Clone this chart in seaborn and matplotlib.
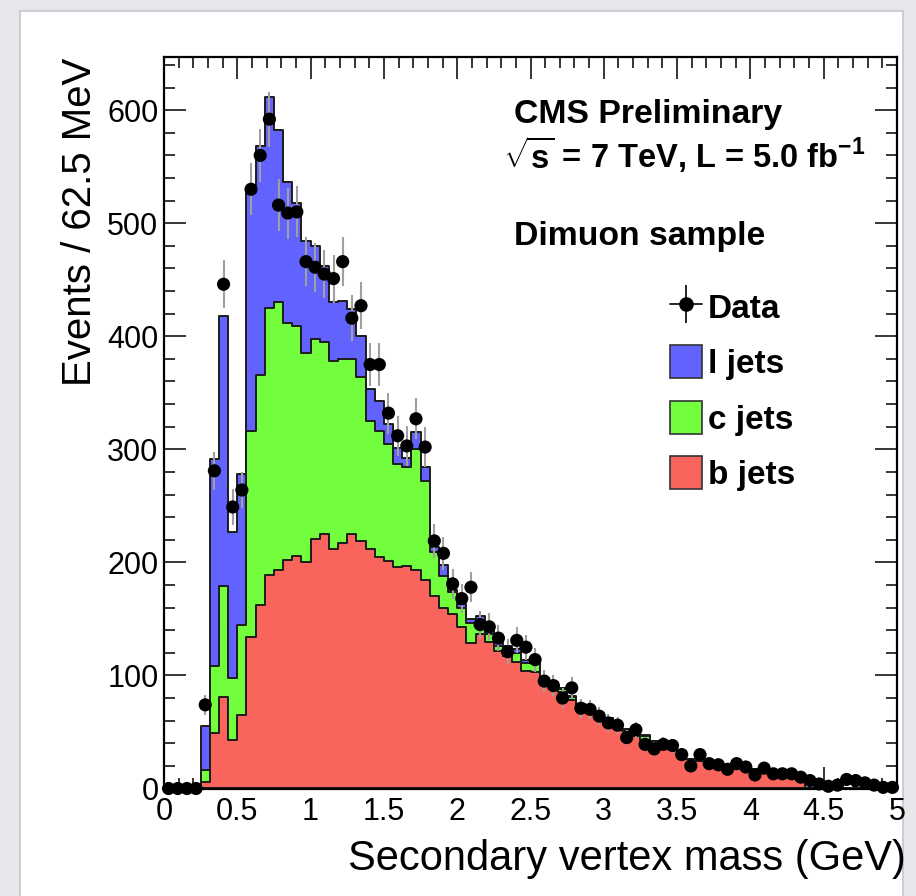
import numpy as np
import pandas as pd
import matplotlib
matplotlib.use("Agg")
import matplotlib.pyplot as plt
import seaborn as sns
from matplotlib.patches import Rectangle, Patch
from matplotlib.lines import Line2D
from matplotlib.ticker import MultipleLocator, FuncFormatter

# 80 bins of 62.5 MeV between 0 and 5 GeV
bin_edges = np.linspace(0, 5, 81)
bin_centers = 0.5 * (bin_edges[:-1] + bin_edges[1:])

# simulated components, events per bin
b_jets = [0, 0, 0, 0, 6, 49, 81, 43, 65, 134,
          162, 189, 193, 202, 206, 200, 221, 225, 212, 217,
          225, 219, 212, 205, 201, 196, 197, 193, 184, 170,
          160, 154, 143, 129, 137, 130, 122, 117, 112, 104,
          103, 96, 92, 85, 78, 74, 70, 64, 61, 57,
          51, 46, 43, 41, 39, 36, 33, 26, 24, 22,
          21, 20, 19, 18, 17, 16, 15, 14, 13, 12,
          0, 0, 0, 0, 0, 0, 0, 0, 0, 0]
c_jets = [0, 0, 0, 0, 10, 59, 98, 55, 80, 182,
          204, 236, 237, 210, 203, 185, 177, 170, 166, 163,
          155, 145, 113, 111, 104, 91, 87, 107, 88, 39,
          28, 20, 17, 17, 12, 7, 4, 5, 8, 7,
          8, 1, 1, 3, 3, 1, 1, 1, 1, 1,
          1, 2, 3, 1, 1, 1, 0, 0, 0, 0,
          0, 0, 0, 0, 0, 0, 0, 0, 0, 0,
          0, 0, 0, 0, 0, 0, 0, 0, 0, 0]
l_jets = [0, 0, 0, 0, 39, 183, 239, 129, 133, 215,
          202, 187, 152, 124, 109, 99, 82, 67, 52, 51,
          44, 36, 28, 27, 17, 14, 8, 15, 12, 5,
          10, 2, 3, 4, 4, 2, 3, 4, 3, 3,
          3, 1, 1, 1, 1, 0, 0, 0, 0, 0,
          1, 1, 1, 0, 0, 0, 0, 0, 0, 0,
          0, 0, 0, 0, 0, 0, 0, 0, 0, 0,
          0, 0, 0, 0, 0, 0, 0, 0, 0, 0]
data_counts = [0, 0, 0, 0, 74, 281, 446, 249, 264, 530,
               560, 592, 516, 509, 510, 466, 461, 455, 451, 466,
               416, 427, 375, 375, 332, 312, 303, 327, 302, 219,
               208, 181, 168, 178, 145, 143, 133, 121, 131, 125,
               114, 95, 91, 80, 89, 71, 70, 64, 58, 56,
               45, 52, 39, 35, 39, 38, 30, 20, 30, 22,
               21, 17, 22, 19, 12, 18, 13, 13, 13, 10,
               7, 4, 2, 3, 8, 7, 5, 3, 1, 1]

x_ticks = [0, 0.5, 1, 1.5, 2, 2.5, 3, 3.5, 4, 4.5, 5]
y_ticks = [0, 100, 200, 300, 400, 500, 600]

col_l = "#6262FE"
col_c = "#73FE3D"
col_b = "#F9655D"

sns.set_theme(style="ticks")
plt.rcParams["font.family"] = ["Liberation Sans", "DejaVu Sans"]
plt.rcParams["mathtext.fontset"] = "custom"
plt.rcParams["mathtext.rm"] = "Liberation Sans"
plt.rcParams["mathtext.bf"] = "Liberation Sans:bold"
plt.rcParams["text.color"] = "black"
plt.rcParams["axes.labelcolor"] = "black"

W, H = 916, 896
fig = plt.figure(figsize=(W / 100, H / 100), dpi=100, facecolor="#e5e7ea")
# white slide card behind the plot
card = Rectangle((20 / W, -0.01), (903 - 20) / W, 1.01 - 11 / H,
                 transform=fig.transFigure, facecolor="white",
                 edgecolor="#c4c7cc", lw=1.2, zorder=-5)
fig.patches.append(card)

ax = fig.add_axes([164 / W, 1 - 788.5 / H, (897 - 164) / W, (788.5 - 57) / H])
ax.set_facecolor("white")

b_arr = np.array(b_jets, dtype=float)
c_arr = np.array(c_jets, dtype=float)
l_arr = np.array(l_jets, dtype=float)
stack_layers = [(b_arr + c_arr + l_arr, col_l), (b_arr + c_arr, col_c), (b_arr, col_b)]
for heights, col in stack_layers:
    layer = pd.DataFrame({"mass": bin_centers, "events": heights})
    sns.histplot(data=layer, x="mass", weights="events", bins=bin_edges.tolist(),
                 element="step", fill=True, color=col, alpha=1, edgecolor="#1c1c1c",
                 linewidth=1.4, ax=ax)

data = np.array(data_counts, dtype=float)
ax.errorbar(bin_centers, data, yerr=np.sqrt(data), fmt="none", ecolor="#a0a0a0",
            elinewidth=1.5, zorder=5)
pts = pd.DataFrame({"mass": bin_centers, "events": data})
sns.scatterplot(data=pts, x="mass", y="events", color="black", s=90, edgecolor="none",
                zorder=6, clip_on=False, legend=False, ax=ax)

ax.set_xlim(0, 5)
ax.set_ylim(0, 647)
ax.set_xticks(x_ticks)
ax.set_yticks(y_ticks)
ax.xaxis.set_major_formatter(FuncFormatter(lambda v, p: f"{v:g}"))
ax.xaxis.set_minor_locator(MultipleLocator(0.1))
ax.yaxis.set_minor_locator(MultipleLocator(20))
ax.tick_params(which="both", direction="in", top=True, right=True, color="black",
               width=1.1, labelsize=22, labelcolor="black")
ax.tick_params(which="major", length=15.5)
ax.tick_params(which="minor", length=8)
ax.tick_params(axis="x", pad=6)
ax.tick_params(axis="y", pad=4)
for s in ax.spines.values():
    s.set_linewidth(1.6)
    s.set_color("black")
    s.set_visible(True)
    s.set_zorder(10)
ax.set_xlabel("")
ax.set_ylabel("")

fig.text(906 / W, 1 - 870 / H, "Secondary vertex mass (GeV)", ha="right", va="baseline",
         fontsize=30)
fig.text(80 / W, 1 - 58 / H, "Events / 62.5 MeV", rotation=90, ha="center", va="top",
         fontsize=29)

fig.text(514 / W, 1 - 123 / H, "CMS Preliminary", fontsize=24.3, weight="bold", va="baseline")
fig.text(503 / W, 1 - 168 / H, r"$\mathbf{\sqrt{s}}$ = 7 TeV, L = 5.0 fb$^{\mathbf{-1}}$",
         fontsize=23.5, weight="bold", va="baseline")
fig.text(514 / W, 1 - 245 / H, "Dimuon sample", fontsize=24.3, weight="bold", va="baseline")

data_handle = (Line2D([], [], color="black", lw=1.2),
               Line2D([], [], marker="|", markersize=27, color="black", ls="none", mew=1.2),
               Line2D([], [], marker="o", markersize=9.5, color="black", ls="none"))
handles = [data_handle,
           Patch(facecolor=col_l, edgecolor="#333333", lw=1.2),
           Patch(facecolor=col_c, edgecolor="#333333", lw=1.2),
           Patch(facecolor=col_b, edgecolor="#333333", lw=1.2)]
labels = ["Data", "l jets", "c jets", "b jets"]
fig.legend(handles, labels, loc="upper left", bbox_to_anchor=(670 / W, 1 - 290 / H),
           bbox_transform=fig.transFigure, frameon=False, borderpad=0, borderaxespad=0,
           handlelength=0.96, handleheight=1.14, handletextpad=0.18, labelspacing=0.62,
           prop={"weight": "bold", "size": 24})

fig.savefig("out.png", dpi=100, facecolor=fig.get_facecolor())
